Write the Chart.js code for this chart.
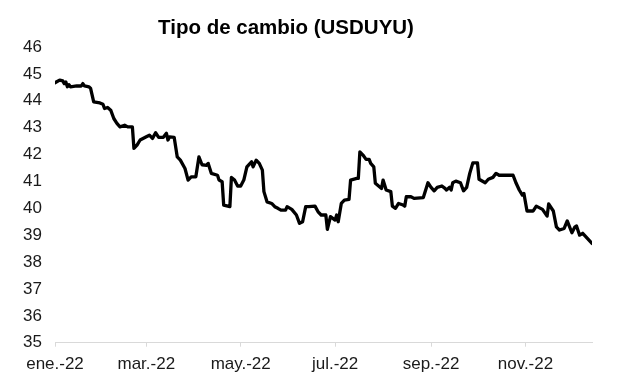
<!DOCTYPE html>
<html>
<head>
<meta charset="utf-8">
<script src="https://cdn.jsdelivr.net/npm/chart.js@4/dist/chart.umd.min.js"></script>
<style>
html,body{margin:0;padding:0;background:#fff;}
#wrap{width:617px;height:382px;position:relative;}
</style>
</head>
<body>
<div id="wrap"><canvas id="c" width="617" height="382"></canvas></div>
<script>
const titleText = "Tipo de cambio (USDUYU)";

const dates = [
"2022-01-03","2022-01-06","2022-01-08","2022-01-09","2022-01-10","2022-01-11","2022-01-12","2022-01-13",
"2022-01-17","2022-01-20","2022-01-21","2022-01-22","2022-01-25","2022-01-26","2022-01-28",
"2022-02-01","2022-02-03","2022-02-04","2022-02-06","2022-02-08","2022-02-10","2022-02-12","2022-02-14",
"2022-02-17","2022-02-19","2022-02-22","2022-02-23","2022-02-25","2022-02-27",
"2022-03-03","2022-03-05","2022-03-07","2022-03-09","2022-03-11","2022-03-14","2022-03-16","2022-03-17",
"2022-03-18","2022-03-21","2022-03-23","2022-03-25","2022-03-28","2022-03-30",
"2022-04-01","2022-04-04","2022-04-06","2022-04-08","2022-04-11","2022-04-12","2022-04-14","2022-04-18",
"2022-04-19","2022-04-21","2022-04-22","2022-04-26","2022-04-27","2022-04-29",
"2022-05-01","2022-05-03","2022-05-05","2022-05-07","2022-05-10","2022-05-11","2022-05-13","2022-05-15",
"2022-05-17","2022-05-18","2022-05-20","2022-05-23","2022-05-25","2022-05-27","2022-05-29",
"2022-06-01","2022-06-02","2022-06-05","2022-06-08","2022-06-10","2022-06-12","2022-06-14","2022-06-16",
"2022-06-20","2022-06-22","2022-06-24","2022-06-27","2022-06-28","2022-06-30",
"2022-07-03","2022-07-04","2022-07-05","2022-07-07","2022-07-09","2022-07-12","2022-07-13","2022-07-17",
"2022-07-18","2022-07-19","2022-07-21","2022-07-23","2022-07-25","2022-07-26","2022-07-28","2022-07-29",
"2022-08-02","2022-08-03","2022-08-05","2022-08-08","2022-08-09","2022-08-11","2022-08-13","2022-08-16",
"2022-08-17","2022-08-18","2022-08-21","2022-08-23","2022-08-29",
"2022-09-01","2022-09-03","2022-09-05","2022-09-07","2022-09-10","2022-09-12","2022-09-13","2022-09-15",
"2022-09-16","2022-09-17","2022-09-19","2022-09-22","2022-09-24","2022-09-26","2022-09-28","2022-09-30",
"2022-10-03","2022-10-04","2022-10-08","2022-10-10","2022-10-13","2022-10-15","2022-10-17","2022-10-26",
"2022-10-28","2022-10-30",
"2022-11-01","2022-11-02","2022-11-04","2022-11-08","2022-11-10","2022-11-14","2022-11-17","2022-11-18",
"2022-11-21","2022-11-23","2022-11-25","2022-11-28","2022-11-30",
"2022-12-03","2022-12-05","2022-12-06","2022-12-08","2022-12-10","2022-12-13","2022-12-16"
];

const usduyu = [
44.67,44.77,44.74,44.64,44.70,44.52,44.60,44.52,
44.55,44.55,44.64,44.55,44.52,44.46,43.96,
43.92,43.87,43.71,43.75,43.65,43.34,43.16,43.03,
43.09,43.03,43.03,42.23,42.35,42.54,
42.66,42.72,42.60,42.81,42.64,42.64,42.79,42.54,
42.66,42.64,41.91,41.79,41.48,41.05,
41.17,41.17,41.91,41.62,41.60,41.67,41.30,41.23,
41.05,40.99,40.12,40.06,41.15,41.05,
40.83,40.83,41.05,41.54,41.73,41.54,41.79,41.67,
41.42,40.62,40.24,40.18,40.06,40.00,39.93,
39.93,40.06,39.96,39.75,39.44,39.50,40.06,40.06,
40.08,39.87,39.75,39.75,39.22,39.69,
39.56,39.75,39.50,40.18,40.30,40.33,41.05,41.11,
41.11,42.10,41.98,41.82,41.82,41.67,41.54,40.93,
40.74,41.05,40.68,40.62,40.08,40.00,40.18,40.12,
40.08,40.43,40.43,40.37,40.40,
40.95,40.78,40.65,40.78,40.83,40.74,40.68,40.78,
40.68,40.95,41.01,40.95,40.65,40.78,41.30,41.69,
41.69,41.08,40.95,41.08,41.15,41.30,41.23,41.23,
40.93,40.68,
40.49,40.55,39.90,39.90,40.08,39.96,39.71,40.16,
39.90,39.31,39.19,39.25,39.53,
39.09,39.31,39.34,39.00,39.07,38.88,38.69
];

const tickDates = ["2022-01-03","2022-03-03","2022-05-03","2022-07-03","2022-09-03","2022-11-03"];
const tickLabels = ["ene.-22","mar.-22","may.-22","jul.-22","sep.-22","nov.-22"];
const yTicks = [35,36,37,38,39,40,41,42,43,44,45,46];

function dayIndex(s){
  const p = s.split("-").map(Number);
  return (Date.UTC(p[0],p[1]-1,p[2]) - Date.UTC(2022,0,1)) / 86400000;
}

const points = dates.map((d,i)=>({x: dayIndex(d), y: usduyu[i]}));
const tickVals = tickDates.map(dayIndex);
const labelByDay = {};
tickVals.forEach((v,i)=>{ labelByDay[v] = tickLabels[i]; });

const FONT = "'Liberation Sans', Arial, sans-serif";
const TXT = "#1a1a1a";

const titlePlugin = {
  id: 'customTitle',
  afterDraw(chart){
    const ctx = chart.ctx;
    ctx.save();
    ctx.font = "bold 20.5px " + FONT;
    ctx.fillStyle = "#000";
    ctx.textAlign = "center";
    ctx.textBaseline = "middle";
    ctx.fillText(titleText, 286, 28);
    ctx.restore();
  }
};

new Chart(document.getElementById('c'), {
  type: 'line',
  data: {
    datasets: [{
      data: points,
      borderColor: '#000',
      borderWidth: 3.3,
      pointRadius: 0,
      tension: 0,
      borderJoinStyle: 'round',
      borderCapStyle: 'round',
      fill: false
    }]
  },
  options: {
    responsive: false,
    animation: false,
    layout: { padding: { top: 47, right: 25, left: 0, bottom: 0 } },
    plugins: { legend: { display: false }, tooltip: { enabled: false }, title: { display: false } },
    scales: {
      x: {
        type: 'linear',
        min: dayIndex(dates[0]),
        max: dayIndex(dates[dates.length-1]),
        afterBuildTicks(scale){ scale.ticks = tickVals.map(v=>({value:v})); },
        afterFit(scale){ scale.height = 39.3; },
        grid: { display: true, drawOnChartArea: false, drawTicks: true, tickLength: 4, color: '#d9d9d9', lineWidth: 1 },
        border: { display: true, color: '#d9d9d9', width: 1 },
        ticks: {
          autoSkip: false, maxRotation: 0, minRotation: 0, padding: 7,
          color: TXT, font: { family: FONT, size: 17 },
          callback(v){ return labelByDay[v] || ''; }
        }
      },
      y: {
        min: 35, max: 46,
        afterBuildTicks(scale){ scale.ticks = yTicks.map(v=>({value:v})); },
        afterFit(scale){ scale.width = 55; },
        grid: { display: false, drawTicks: false, tickLength: 0 },
        border: { display: false },
        ticks: { padding: 13, color: TXT, font: { family: FONT, size: 17 } }
      }
    }
  },
  plugins: [titlePlugin]
});
</script>
</body>
</html>
